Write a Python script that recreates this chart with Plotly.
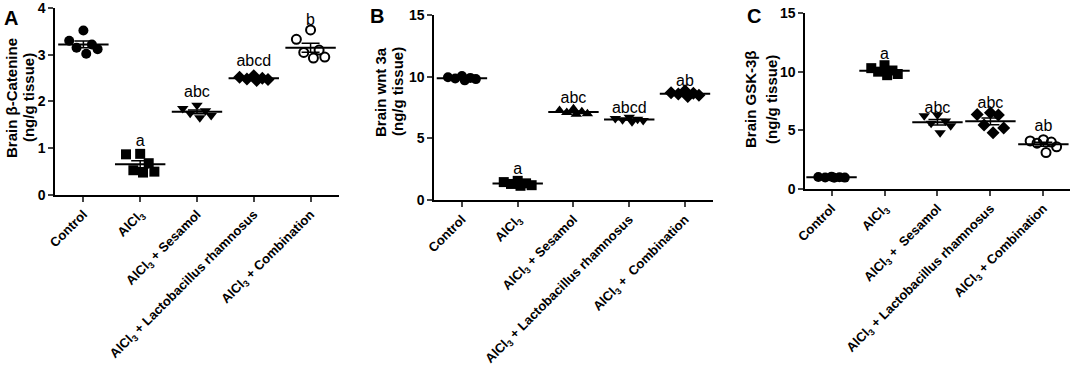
import numpy as np
import plotly.graph_objects as go

groups = ["Control", "AlCl<sub>3</sub>", "AlCl<sub>3</sub> + Sesamol",
          "AlCl<sub>3</sub> + Lactobacillus rhamnosus", "AlCl<sub>3</sub> + Combination"]
groups_b = ["Control", "AlCl<sub>3</sub>", "AlCl<sub>3</sub> + Sesamol",
            "AlCl<sub>3</sub> + Lactobacillus rhamnosus", "AlCl<sub>3</sub> +  Combination"]
groups_c = ["Control", "AlCl<sub>3</sub>", "AlCl<sub>3</sub> +  Sesamol",
            "AlCl<sub>3</sub> + Lactobacillus rhamnosus", "AlCl<sub>3</sub> + Combination"]

# Panel A: Brain beta-catenin
a_control = [3.52, 3.30, 3.22, 3.15, 3.12, 3.02]
a_alcl3 = [0.88, 0.87, 0.68, 0.53, 0.50, 0.48]
a_sesamol = [1.92, 1.85, 1.80, 1.75, 1.70, 1.65]
a_lrh = [2.55, 2.52, 2.50, 2.48, 2.47, 2.45]
a_comb = [3.53, 3.33, 3.10, 3.05, 2.95, 2.93]
a_letters = ["", "a", "abc", "abcd", "b"]
a_letter_y = [None, 1.14, 2.19, 2.85, 3.72]

# Panel B: Brain wnt 3a
b_control = [10.05, 9.95, 9.90, 9.85, 9.80, 9.70]
b_alcl3 = [1.55, 1.45, 1.35, 1.30, 1.20, 1.15]
b_sesamol = [7.40, 7.25, 7.15, 7.10, 7.00, 6.95]
b_lrh = [6.70, 6.60, 6.55, 6.50, 6.45, 6.35]
b_comb = [8.85, 8.70, 8.65, 8.60, 8.50, 8.40]
b_letters = ["", "a", "abc", "abcd", "ab"]
b_letter_y = [None, 2.4, 8.2, 7.35, 9.6]

# Panel C: Brain GSK-3beta
c_control = [1.05, 1.02, 1.00, 0.98, 0.97, 0.95]
c_alcl3 = [10.55, 10.30, 10.10, 10.00, 9.80, 9.70]
c_sesamol = [6.30, 6.25, 5.80, 5.60, 5.40, 4.80]
c_lrh = [6.50, 6.35, 6.30, 5.45, 5.20, 4.80]
c_comb = [4.20, 4.10, 4.00, 3.90, 3.60, 3.10]
c_letters = ["", "a", "abc", "abc", "ab"]
c_letter_y = [None, 11.45, 6.8, 7.27, 5.3]

jitter = [0.0, -0.25, 0.15, -0.12, 0.25, 0.05]

FONT = "Liberation Sans, Arial, sans-serif"

sym_a = ["circle", "square", "triangle-down", "diamond", "circle-open"]
sym_b = ["circle", "square", "triangle-up", "triangle-down", "diamond"]
sym_c = ["circle", "square", "triangle-down", "diamond", "circle-open"]

panels = [
    dict(data=[a_control, a_alcl3, a_sesamol, a_lrh, a_comb], letters=a_letters, ly=a_letter_y,
         syms=sym_a, cats=groups, xa="x", ya="y", xdom=[0.0513, 0.3162], ydom=[0.4758, 0.9785],
         yr=[0, 4], dt=1, title=["Brain β-Catenine", "(ng/g tissue)"],
         tx=[0.0112, 0.0271], ty=0.7366, label="A", lx=0.0019, lt=0.9866),
    dict(data=[b_control, b_alcl3, b_sesamol, b_lrh, b_comb], letters=b_letters, ly=b_letter_y,
         syms=sym_b, cats=groups_b, xa="x2", ya="y2", xdom=[0.4049, 0.665], ydom=[0.4624, 0.9597],
         yr=[0, 15], dt=5, title=["Brain wnt 3a", "(ng/g tissue)"],
         tx=[0.3554, 0.3713], ty=0.7527, label="B", lx=0.3433, lt=0.992),
    dict(data=[c_control, c_alcl3, c_sesamol, c_lrh, c_comb], letters=c_letters, ly=c_letter_y,
         syms=sym_c, cats=groups_c, xa="x3", ya="y3", xdom=[0.751, 0.998], ydom=[0.492, 0.965],
         yr=[0, 15], dt=5, title=["Brain GSK-3β", "(ng/g tissue)"],
         tx=[0.7006, 0.7201], ty=0.7339, label="C", lx=0.695, lt=0.992),
]

fig = go.Figure()
layout = dict(width=1072, height=372, margin=dict(l=0, r=0, t=0, b=0, autoexpand=False),
              plot_bgcolor="white", paper_bgcolor="white", showlegend=False,
              font=dict(family=FONT, size=13, color="black", weight="bold"))

for pi, p in enumerate(panels):
    for gi, vals in enumerate(p["data"]):
        xs = [gi + j for j in jitter[:len(vals)]]
        sym = p["syms"][gi]
        opn = sym.endswith("open")
        fig.add_trace(go.Scatter(
            x=xs, y=vals, mode="markers", xaxis=p["xa"], yaxis=p["ya"],
            marker=dict(symbol=sym, size=10 if not opn else 9, color="black",
                        line=dict(color="black", width=2 if opn else 0)),
            hoverinfo="skip", cliponaxis=False))
        m = float(np.mean(vals))
        sem = float(np.std(vals, ddof=1) / np.sqrt(len(vals)))
        fig.add_trace(go.Scatter(
            x=[gi], y=[m], mode="markers", xaxis=p["xa"], yaxis=p["ya"],
            marker=dict(symbol="line-ew-open", size=36, color="black",
                        line=dict(color="black", width=2)),
            error_y=dict(type="data", array=[sem], width=9, thickness=1.5, color="black"),
            hoverinfo="skip"))
        if p["letters"][gi]:
            fig.add_trace(go.Scatter(
                x=[gi], y=[p["ly"][gi]], mode="text", text=[p["letters"][gi]],
                textfont=dict(family=FONT, size=16, color="black", weight="normal"),
                xaxis=p["xa"], yaxis=p["ya"], hoverinfo="skip", cliponaxis=False))
    sfx = "" if pi == 0 else str(pi + 1)
    layout["xaxis" + sfx] = dict(
        domain=p["xdom"], anchor=p["ya"], range=[-0.5, 4.5], automargin=False,
        tickmode="array", tickvals=list(range(5)), ticktext=p["cats"],
        tickangle=-45, ticks="outside", ticklen=5, tickwidth=1.5,
        ticklabeloverflow="allow",
        showline=True, linecolor="black", linewidth=1.5, showgrid=False, zeroline=False,
        tickfont=dict(family=FONT, size=13, color="black", weight="bold"))
    layout["yaxis" + sfx] = dict(
        domain=p["ydom"], anchor=p["xa"], range=p["yr"], dtick=p["dt"], automargin=False,
        ticks="outside", ticklen=5, tickwidth=1.5, ticklabeloverflow="allow",
        showline=True, linecolor="black", linewidth=1.5, showgrid=False, zeroline=False,
        tickfont=dict(family=FONT, size=14, color="black", weight="bold"))
    for line, xx in zip(p["title"], p["tx"]):
        fig.add_annotation(text=line, x=xx, y=p["ty"], xref="paper", yref="paper",
                           xanchor="center", yanchor="middle", textangle=-90, showarrow=False,
                           font=dict(family=FONT, size=15, color="black", weight="bold"))
    fig.add_annotation(text=p["label"], x=p["lx"], y=p["lt"],
                       xref="paper", yref="paper", xanchor="left", yanchor="top", showarrow=False,
                       font=dict(family=FONT, size=20, color="black", weight="bold"))

fig.update_layout(**layout)
fig.write_html("out.html", config={"displayModeBar": False},
               post_script="document.body.style.margin='0';")
